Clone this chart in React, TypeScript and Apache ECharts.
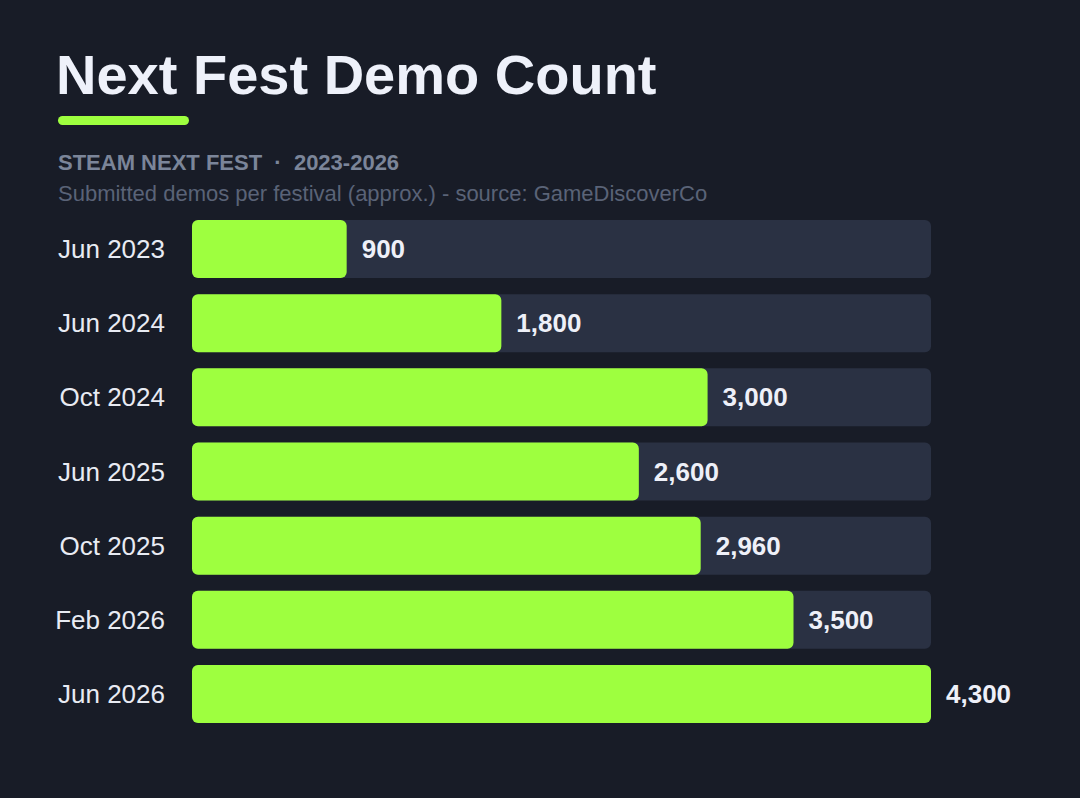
import { useEffect, useRef } from 'react';
import * as echarts from 'echarts';

const categories = ['Jun 2023', 'Jun 2024', 'Oct 2024', 'Jun 2025', 'Oct 2025', 'Feb 2026', 'Jun 2026'];
const demoCounts = [900, 1800, 3000, 2600, 2960, 3500, 4300];

const BG = '#181c27';
const GREEN = '#9eff3f';
const TRACK = '#2a3143';
const FONT = '"Liberation Sans", Arial, sans-serif';

export default function App() {
  const chartRef = useRef<HTMLDivElement>(null);

  useEffect(() => {
    document.body.style.margin = '0';
    if (!chartRef.current) return;
    const chart = echarts.init(chartRef.current, undefined, { renderer: 'svg' });
    chart.setOption({
      animation: false,
      backgroundColor: BG,
      textStyle: { fontFamily: FONT },
      grid: { left: 192, right: 149, top: 212, bottom: 67, containLabel: false },
      xAxis: {
        type: 'value',
        min: 0,
        max: 4300,
        show: false,
      },
      yAxis: {
        type: 'category',
        data: categories,
        inverse: true,
        axisLine: { show: false },
        axisTick: { show: false },
        splitLine: { show: false },
        axisLabel: {
          margin: 27,
          fontSize: 26,
          color: '#e8ebf3',
          fontFamily: FONT,
        },
      },
      series: [
        {
          type: 'bar',
          data: demoCounts,
          barWidth: 58,
          showBackground: true,
          backgroundStyle: { color: TRACK, borderRadius: 6 },
          itemStyle: { color: GREEN, borderRadius: 6 },
          label: {
            show: true,
            position: 'right',
            distance: 15,
            fontSize: 26,
            fontWeight: 'bold',
            color: '#eef0f8',
            fontFamily: FONT,
            formatter: (p: { value: number }) => p.value.toLocaleString('en-US'),
          },
        },
      ],
      graphic: [
        {
          type: 'text',
          left: 56,
          top: 46,
          style: {
            text: 'Next Fest Demo Count',
            fontSize: 56,
            fontWeight: 'bold',
            fill: '#eef1fa',
            fontFamily: FONT,
          },
        },
        {
          type: 'rect',
          shape: { x: 58, y: 116, width: 131, height: 9, r: 4.5 },
          style: { fill: GREEN },
        },
        {
          type: 'text',
          left: 58,
          top: 151,
          style: {
            text: 'STEAM NEXT FEST  ·  2023-2026',
            fontSize: 22,
            fontWeight: 'bold',
            fill: '#7b8599',
            fontFamily: FONT,
          },
        },
        {
          type: 'text',
          left: 58,
          top: 182,
          style: {
            text: 'Submitted demos per festival (approx.) - source: GameDiscoverCo',
            fontSize: 22,
            fill: '#5a6377',
            fontFamily: FONT,
          },
        },
      ],
    });
    return () => {
      chart.dispose();
    };
  }, []);

  return <div ref={chartRef} style={{ width: 1080, height: 798 }} />;
}
